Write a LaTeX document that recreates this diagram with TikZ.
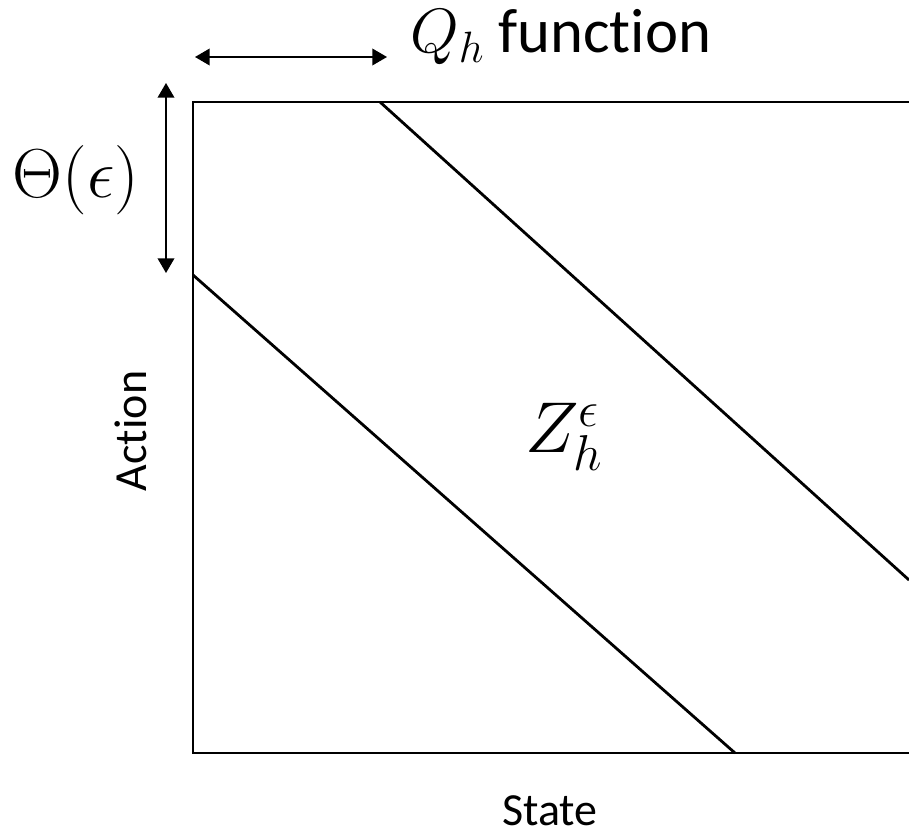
\RequirePackage{fix-cm}
\documentclass[tikz,border=0pt]{standalone}
\usepackage[no-math]{fontspec}
\setmainfont{Carlito}[Ligatures=NoCommon]
\usetikzlibrary{arrows.meta}
\begin{document}
\begin{tikzpicture}[x=0.75pt,y=-0.75pt,
  frame/.style={line width=2.1pt,black},
  diag/.style={line width=2.1pt,black},
  dimarrow/.style={line width=1.1pt,{Triangle[length=11pt,width=12.5pt]}-{Triangle[length=11pt,width=12.5pt]}},
  bigtxt/.style={inner sep=0pt,font=\fontsize{47}{54}\selectfont},
  axtxt/.style={inner sep=0pt,font=\fontsize{34.5}{41}\selectfont}]
\useasboundingbox (0,0) rectangle (909,834);
% frame corners
\coordinate (tl) at (193,102);
\coordinate (bl) at (193,753);
\coordinate (tr) at (909,102);
\coordinate (br) at (909,753);
\draw[frame] (tr) -- (tl) -- (bl) -- (br);
% diagonals
\coordinate (u1) at (380,102);
\coordinate (u2) at (909,580);
\coordinate (l1) at (193,275);
\coordinate (l2) at (735,753);
\draw[diag] (u1) -- (u2);
\draw[diag] (l1) -- (l2);
% dimension arrows
\coordinate (h1) at (195,57);
\coordinate (h2) at (387,57);
\coordinate (v1) at (166,83);
\coordinate (v2) at (166,273);
\draw[dimarrow] (h1) -- (h2);
\draw[dimarrow] (v1) -- (v2);
% labels
\node[bigtxt,anchor=base west] (qlab) at (410,53) {$Q_h$ function};
\node[inner sep=0pt,font=\fontsize{52}{60}\selectfont] (theta) at (76,180) {$\Theta(\epsilon)$};
\node[axtxt,rotate=90] (action) at (131,431) {Action};
\node[axtxt,anchor=base] (state) at (550,825) {State};
\node[inner sep=0pt,font=\fontsize{54}{60}\selectfont] (zlab) at (564,437) {$Z_h^\epsilon$};
\end{tikzpicture}
\end{document}
